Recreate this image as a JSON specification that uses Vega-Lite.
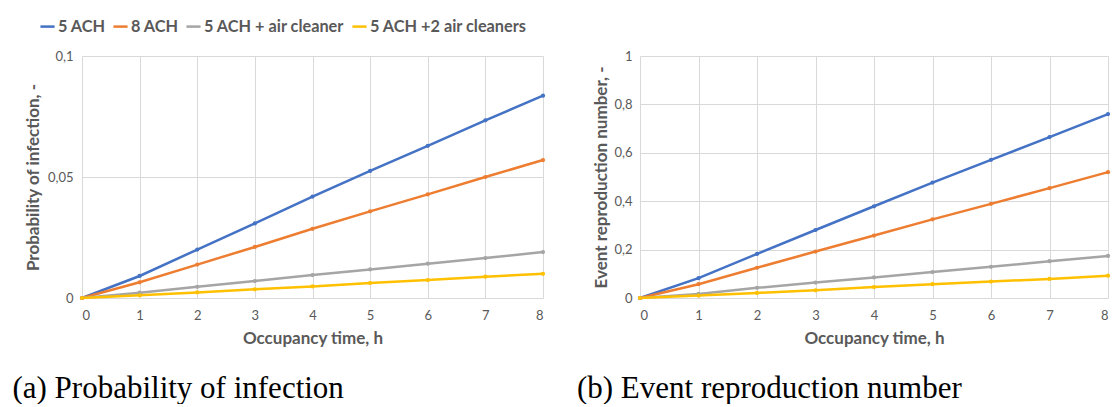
{
  "$schema": "https://vega.github.io/schema/vega-lite/v6.json",
  "autosize": {"type": "pad"},
  "padding": {"left": 12, "top": 18, "right": 0, "bottom": 0},
  "spacing": 28,
  "background": "white",
  "datasets": {
    "poi": [
      {"series": "5 ACH", "t": 0, "value": 0},
      {"series": "5 ACH", "t": 1, "value": 0.0091},
      {"series": "5 ACH", "t": 2, "value": 0.0200},
      {"series": "5 ACH", "t": 3, "value": 0.0308},
      {"series": "5 ACH", "t": 4, "value": 0.0419},
      {"series": "5 ACH", "t": 5, "value": 0.0525},
      {"series": "5 ACH", "t": 6, "value": 0.0629},
      {"series": "5 ACH", "t": 7, "value": 0.0734},
      {"series": "5 ACH", "t": 8, "value": 0.0836},
      {"series": "8 ACH", "t": 0, "value": 0},
      {"series": "8 ACH", "t": 1, "value": 0.0065},
      {"series": "8 ACH", "t": 2, "value": 0.0138},
      {"series": "8 ACH", "t": 3, "value": 0.0211},
      {"series": "8 ACH", "t": 4, "value": 0.0286},
      {"series": "8 ACH", "t": 5, "value": 0.0358},
      {"series": "8 ACH", "t": 6, "value": 0.0428},
      {"series": "8 ACH", "t": 7, "value": 0.0500},
      {"series": "8 ACH", "t": 8, "value": 0.0570},
      {"series": "5 ACH + air cleaner", "t": 0, "value": 0},
      {"series": "5 ACH + air cleaner", "t": 1, "value": 0.0022},
      {"series": "5 ACH + air cleaner", "t": 2, "value": 0.0046},
      {"series": "5 ACH + air cleaner", "t": 3, "value": 0.0070},
      {"series": "5 ACH + air cleaner", "t": 4, "value": 0.0095},
      {"series": "5 ACH + air cleaner", "t": 5, "value": 0.0118},
      {"series": "5 ACH + air cleaner", "t": 6, "value": 0.0142},
      {"series": "5 ACH + air cleaner", "t": 7, "value": 0.0165},
      {"series": "5 ACH + air cleaner", "t": 8, "value": 0.0190},
      {"series": "5 ACH +2 air cleaners", "t": 0, "value": 0},
      {"series": "5 ACH +2 air cleaners", "t": 1, "value": 0.0011},
      {"series": "5 ACH +2 air cleaners", "t": 2, "value": 0.0023},
      {"series": "5 ACH +2 air cleaners", "t": 3, "value": 0.0036},
      {"series": "5 ACH +2 air cleaners", "t": 4, "value": 0.0048},
      {"series": "5 ACH +2 air cleaners", "t": 5, "value": 0.0062},
      {"series": "5 ACH +2 air cleaners", "t": 6, "value": 0.0074},
      {"series": "5 ACH +2 air cleaners", "t": 7, "value": 0.0088},
      {"series": "5 ACH +2 air cleaners", "t": 8, "value": 0.0100}
    ],
    "ern": [
      {"series": "5 ACH", "t": 0, "value": 0},
      {"series": "5 ACH", "t": 1, "value": 0.082},
      {"series": "5 ACH", "t": 2, "value": 0.182},
      {"series": "5 ACH", "t": 3, "value": 0.281},
      {"series": "5 ACH", "t": 4, "value": 0.379},
      {"series": "5 ACH", "t": 5, "value": 0.477},
      {"series": "5 ACH", "t": 6, "value": 0.571},
      {"series": "5 ACH", "t": 7, "value": 0.665},
      {"series": "5 ACH", "t": 8, "value": 0.760},
      {"series": "8 ACH", "t": 0, "value": 0},
      {"series": "8 ACH", "t": 1, "value": 0.057},
      {"series": "8 ACH", "t": 2, "value": 0.125},
      {"series": "8 ACH", "t": 3, "value": 0.192},
      {"series": "8 ACH", "t": 4, "value": 0.258},
      {"series": "8 ACH", "t": 5, "value": 0.325},
      {"series": "8 ACH", "t": 6, "value": 0.389},
      {"series": "8 ACH", "t": 7, "value": 0.454},
      {"series": "8 ACH", "t": 8, "value": 0.520},
      {"series": "5 ACH + air cleaner", "t": 0, "value": 0},
      {"series": "5 ACH + air cleaner", "t": 1, "value": 0.017},
      {"series": "5 ACH + air cleaner", "t": 2, "value": 0.042},
      {"series": "5 ACH + air cleaner", "t": 3, "value": 0.064},
      {"series": "5 ACH + air cleaner", "t": 4, "value": 0.085},
      {"series": "5 ACH + air cleaner", "t": 5, "value": 0.107},
      {"series": "5 ACH + air cleaner", "t": 6, "value": 0.129},
      {"series": "5 ACH + air cleaner", "t": 7, "value": 0.152},
      {"series": "5 ACH + air cleaner", "t": 8, "value": 0.174},
      {"series": "5 ACH +2 air cleaners", "t": 0, "value": 0},
      {"series": "5 ACH +2 air cleaners", "t": 1, "value": 0.010},
      {"series": "5 ACH +2 air cleaners", "t": 2, "value": 0.021},
      {"series": "5 ACH +2 air cleaners", "t": 3, "value": 0.032},
      {"series": "5 ACH +2 air cleaners", "t": 4, "value": 0.045},
      {"series": "5 ACH +2 air cleaners", "t": 5, "value": 0.057},
      {"series": "5 ACH +2 air cleaners", "t": 6, "value": 0.068},
      {"series": "5 ACH +2 air cleaners", "t": 7, "value": 0.079},
      {"series": "5 ACH +2 air cleaners", "t": 8, "value": 0.092}
    ]
  },
  "config": {
    "view": {"stroke": null},
    "font": "Lato",
    "axis": {
      "grid": true,
      "gridColor": "#D9D9D9",
      "gridWidth": 1,
      "domain": false,
      "ticks": false,
      "labelFont": "Lato",
      "labelFontSize": 13,
      "labelColor": "#595959",
      "titleFont": "Lato",
      "titleFontSize": 17,
      "titleFontWeight": "bold",
      "titleColor": "#595959"
    },
    "legend": {
      "labelFont": "Lato",
      "labelFontSize": 16.3,
      "labelFontWeight": "bold",
      "labelColor": "#595959",
      "labelLimit": 400,
      "symbolType": "stroke",
      "symbolSize": 200,
      "symbolStrokeWidth": 2.5,
      "labelOffset": 2,
      "columnPadding": 2,
      "title": null
    }
  },
  "hconcat": [
    {
      "width": 461,
      "height": 242,
      "data": {"name": "poi"},
      "title": {"text": "(a) Probability of infection", "orient": "bottom", "anchor": "start", "font": "Liberation Serif", "fontSize": 31, "fontWeight": "normal", "color": "black", "offset": 28, "dx": -12},
      "mark": {"type": "line", "strokeWidth": 2.5, "point": {"size": 18, "filled": true}},
      "encoding": {
        "x": {"field": "t", "type": "quantitative", "scale": {"domain": [0, 8], "nice": false}, "axis": {"values": [0,1,2,3,4,5,6,7,8], "title": "Occupancy time, h", "labelPadding": 11, "titlePadding": 8}},
        "y": {"field": "value", "type": "quantitative", "scale": {"domain": [0, 0.1], "nice": false}, "axis": {"values": [0, 0.05, 0.1], "labelExpr": "replace(toString(datum.value), '.', ',')", "title": "Probability of infection, -", "labelPadding": 9, "titlePadding": 5}},
        "color": {"field": "series", "type": "nominal", "scale": {"domain": ["5 ACH", "8 ACH", "5 ACH + air cleaner", "5 ACH +2 air cleaners"], "range": ["#4472C4", "#ED7D31", "#A5A5A5", "#FFC000"]}, "legend": {"orient": "none", "direction": "horizontal", "legendX": -43, "legendY": -38}}
      }
    },
    {
      "width": 468,
      "height": 242,
      "data": {"name": "ern"},
      "title": {"text": "(b) Event reproduction number", "orient": "bottom", "anchor": "start", "font": "Liberation Serif", "fontSize": 31, "fontWeight": "normal", "color": "black", "offset": 28, "dx": -16},
      "mark": {"type": "line", "strokeWidth": 2.5, "point": {"size": 18, "filled": true}},
      "encoding": {
        "x": {"field": "t", "type": "quantitative", "scale": {"domain": [0, 8], "nice": false}, "axis": {"values": [0,1,2,3,4,5,6,7,8], "title": "Occupancy time, h", "labelPadding": 11, "titlePadding": 8}},
        "y": {"field": "value", "type": "quantitative", "scale": {"domain": [0, 1], "nice": false}, "axis": {"values": [0, 0.2, 0.4, 0.6, 0.8, 1], "labelExpr": "replace(toString(datum.value), '.', ',')", "title": "Event reproduction number, -", "labelPadding": 8, "titlePadding": 3}},
        "color": {"field": "series", "type": "nominal", "scale": {"domain": ["5 ACH", "8 ACH", "5 ACH + air cleaner", "5 ACH +2 air cleaners"], "range": ["#4472C4", "#ED7D31", "#A5A5A5", "#FFC000"]}, "legend": {"orient": "none", "direction": "horizontal", "legendX": -36, "legendY": -38}}
      }
    }
  ],
  "resolve": {"scale": {"color": "shared"}}
}
